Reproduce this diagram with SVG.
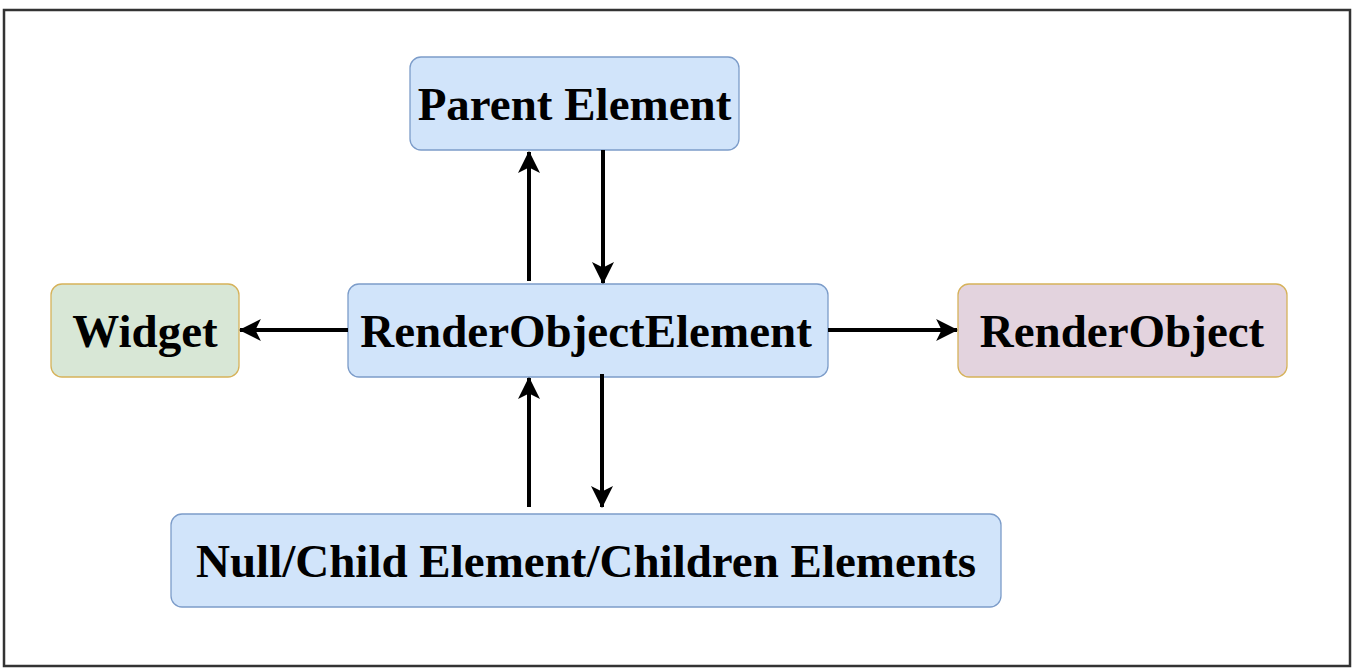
<svg xmlns="http://www.w3.org/2000/svg" width="1358" height="670" viewBox="0 0 1358 670">
<style>
.box{stroke-width:1.3}
.blue{fill:#d1e4fa;stroke:#7c9cc9}
.green{fill:#d8e7d6;stroke:#d6b25a}
.purple{fill:#e3d3de;stroke:#d6b25a}
.lbl{font-family:"Liberation Serif","Times New Roman",serif;font-weight:bold;font-size:47px;fill:#000;text-anchor:middle}
.conn{stroke:#000;stroke-width:4;fill:none}
</style>
<defs>
<marker id="arr" viewBox="0 0 20 20" refX="19" refY="10" markerWidth="5.5" markerHeight="5.5" markerUnits="strokeWidth" orient="auto">
<path d="M0,0 L20,10 L0,20 L5,10 Z" fill="#000"/>
</marker>
</defs>
<rect x="4" y="10" width="1346" height="656" fill="#fff" stroke="#333" stroke-width="2.5"/>
<g id="parent">
<rect class="box blue" x="410" y="57" width="329" height="93" rx="11"/>
<text class="lbl" x="574.5" y="120">Parent Element</text>
</g>
<g id="roe">
<rect class="box blue" x="348" y="284" width="480" height="93" rx="11"/>
<text class="lbl" x="586" y="347">RenderObjectElement</text>
</g>
<g id="widget">
<rect class="box green" x="51" y="284" width="188" height="93" rx="11"/>
<text class="lbl" x="145" y="347">Widget</text>
</g>
<g id="renderobject">
<rect class="box purple" x="958" y="284" width="329" height="93" rx="11"/>
<text class="lbl" x="1122" y="347">RenderObject</text>
</g>
<g id="children">
<rect class="box blue" x="171" y="514" width="830" height="93" rx="11"/>
<text class="lbl" x="586" y="577">Null/Child Element/Children Elements</text>
</g>
<g id="connectors">
<line class="conn" x1="529" y1="281" x2="529" y2="152" marker-end="url(#arr)"/>
<line class="conn" x1="603" y1="150" x2="603" y2="283" marker-end="url(#arr)"/>
<line class="conn" x1="348" y1="330" x2="240" y2="330" marker-end="url(#arr)"/>
<line class="conn" x1="828" y1="330" x2="957" y2="330" marker-end="url(#arr)"/>
<line class="conn" x1="529" y1="507" x2="529" y2="378" marker-end="url(#arr)"/>
<line class="conn" x1="602" y1="374" x2="602" y2="507" marker-end="url(#arr)"/>
</g>
</svg>
